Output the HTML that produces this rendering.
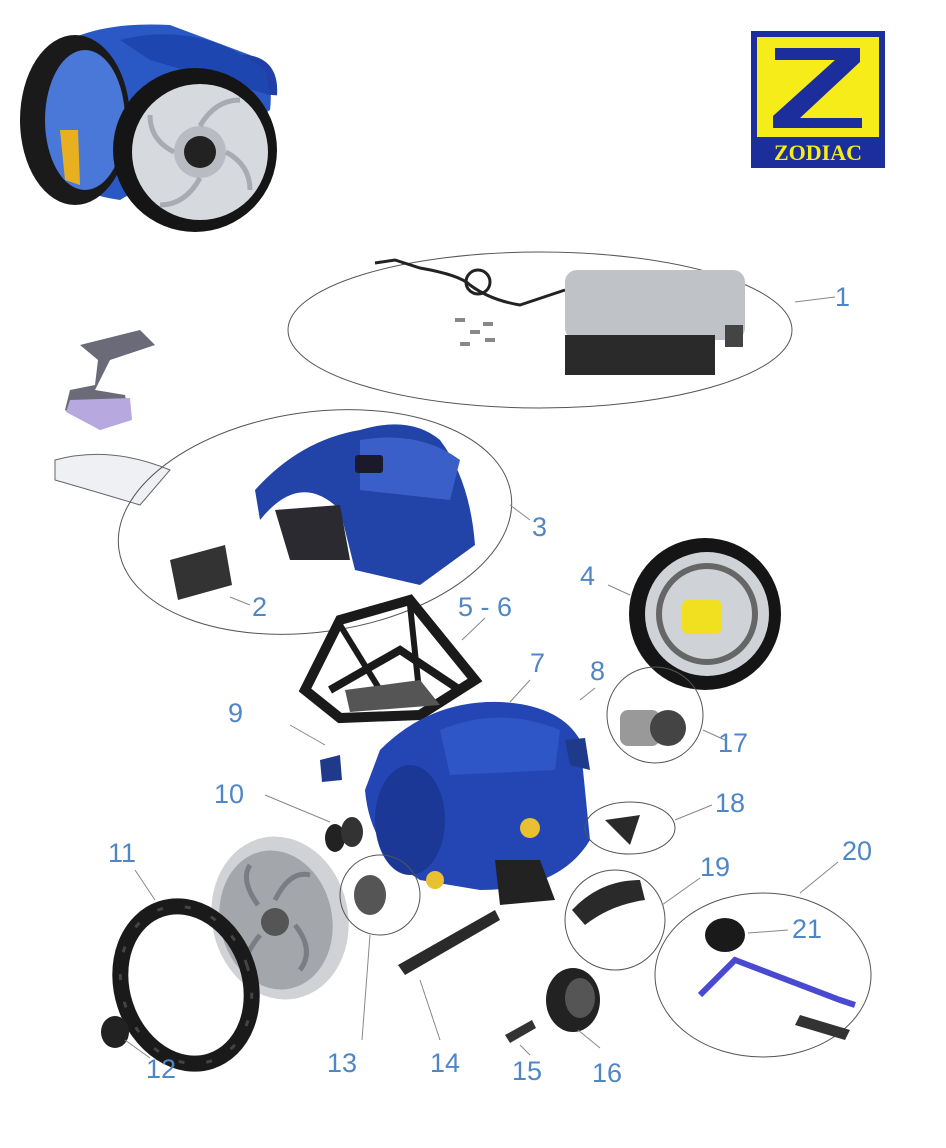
<!DOCTYPE html>
<html><head><meta charset="utf-8"><style>
html,body{margin:0;padding:0;background:#fff;}
svg{display:block}
.n{font-family:"Liberation Sans",sans-serif;font-size:27px;fill:#4f86c6;}
</style></head><body>
<svg width="946" height="1148" viewBox="0 0 946 1148" xmlns="http://www.w3.org/2000/svg">
<!-- top-left robot -->
<g>
<path d="M40 60 Q80 20 170 25 L250 55 Q275 70 270 110 L120 200 Q50 190 35 140 Z" fill="#2a58c4"/>
<path d="M230 60 Q275 55 272 95" fill="none" stroke="#2040a8" stroke-width="10"/>
<ellipse cx="75" cy="120" rx="55" ry="85" fill="#1a1a1a"/>
<ellipse cx="85" cy="120" rx="40" ry="70" fill="#4a78d8"/>
<path d="M120 40 Q200 20 265 70 L270 95 L150 60 Z" fill="#1e46b0"/>
<circle cx="195" cy="150" r="82" fill="#151515"/>
<circle cx="200" cy="152" r="68" fill="#d6d9de"/>
<circle cx="200" cy="152" r="26" fill="#b8bcc2"/>
<circle cx="200" cy="152" r="16" fill="#222"/>
<g stroke="#a8acb2" stroke-width="5" fill="none"><path d="M200 126 Q215 100 240 100"/><path d="M226 152 Q250 165 250 190"/><path d="M200 178 Q185 205 160 205"/><path d="M174 152 Q150 140 150 115"/></g>
<path d="M60 130 L78 130 L80 185 L65 180 Z" fill="#e8b020"/>
</g>
<!-- logo -->
<rect x="751" y="31" width="134" height="137" fill="#1c2e9c"/>
<rect x="757" y="37" width="122" height="100" fill="#f6ec1a"/>
<path d="M775 48 L860 48 L860 62 L800 118 L862 118 L862 128 L773 128 L773 116 L835 60 L775 60 Z" fill="#1c2e9c"/>
<text x="818" y="160" text-anchor="middle" font-family="Liberation Serif,serif" font-weight="bold" font-size="22" fill="#f6ec1a">ZODIAC</text>
<!-- ellipse 1 -->
<ellipse cx="540" cy="330" rx="252" ry="78" fill="none" stroke="#555" stroke-width="1"/>
<line x1="795" y1="302" x2="835" y2="297" stroke="#888"/>
<text class="n" x="835" y="306">1</text>
<path d="M375 263 L395 260 L420 268 Q460 275 470 285 Q490 300 520 305 L565 290" fill="none" stroke="#222" stroke-width="3"/>
<circle cx="478" cy="282" r="12" fill="none" stroke="#222" stroke-width="3"/>
<rect x="565" y="270" width="180" height="70" rx="12" fill="#bfc2c6"/>
<rect x="565" y="335" width="150" height="40" fill="#2a2a2a"/>
<rect x="725" y="325" width="18" height="22" fill="#444"/>
<g fill="#888"><rect x="455" y="318" width="10" height="4"/><rect x="470" y="330" width="10" height="4"/><rect x="483" y="322" width="10" height="4"/><rect x="460" y="342" width="10" height="4"/><rect x="485" y="338" width="10" height="4"/></g>
<!-- remote & tiles -->
<path d="M80 345 L140 330 L155 345 L110 360 L95 390 L125 395 L130 420 L100 430 L65 410 L70 390 L95 385 L98 360 Z" fill="#6a6a78"/>
<path d="M70 400 L130 398 L132 420 L100 430 L66 412 Z" fill="#b7a8e0"/>
<path d="M55 460 Q110 445 170 470 L140 505 Q90 490 55 480 Z" fill="#eef0f3" stroke="#666"/>
<!-- ellipse 3 -->
<ellipse cx="315" cy="522" rx="198" ry="110" transform="rotate(-8 315 522)" fill="none" stroke="#555"/>
<line x1="510" y1="505" x2="530" y2="520" stroke="#888"/>
<text class="n" x="532" y="536">3</text>
<path d="M255 490 Q300 440 360 430 Q410 415 440 440 Q470 480 475 545 L420 585 L355 570 L340 510 Q300 470 260 520 Z" fill="#2244a8"/>
<path d="M275 510 L340 505 L350 560 L290 560 Z" fill="#2a2a30"/>
<path d="M360 440 Q420 430 460 460 L450 500 L360 490 Z" fill="#3b5fc8"/>
<rect x="355" y="455" width="28" height="18" rx="3" fill="#1a1a2a"/>
<path d="M170 560 L225 545 L232 585 L178 600 Z" fill="#333"/>
<line x1="230" y1="597" x2="250" y2="605" stroke="#888"/>
<text class="n" x="252" y="616">2</text>
<!-- wheel 4 -->
<circle cx="705" cy="614" r="76" fill="#151515"/>
<circle cx="707" cy="614" r="62" fill="#cfd2d6"/>
<circle cx="707" cy="614" r="48" fill="none" stroke="#666" stroke-width="6"/>
<rect x="682" y="600" width="40" height="34" rx="6" fill="#f0e020"/>
<line x1="608" y1="585" x2="630" y2="595" stroke="#888"/>
<text class="n" x="580" y="585">4</text>
<!-- frame 5-6 -->
<path d="M305 690 L340 620 L410 600 L475 680 L420 715 L340 718 Z" fill="none" stroke="#1a1a1a" stroke-width="10"/>
<path d="M330 690 L400 650 L460 690" fill="none" stroke="#1a1a1a" stroke-width="8"/>
<path d="M340 625 L380 690 M410 605 L420 700" stroke="#1a1a1a" stroke-width="6"/>
<path d="M345 690 L420 680 L440 705 L350 712 Z" fill="#555"/>
<line x1="462" y1="640" x2="485" y2="618" stroke="#888"/>
<text class="n" x="458" y="616">5 - 6</text>
<!-- body 7 -->
<path d="M380 750 Q430 700 500 702 Q560 705 580 740 L590 840 Q560 890 480 890 L420 880 Q370 850 365 790 Z" fill="#2346b4"/>
<path d="M440 730 Q500 705 560 730 L555 770 L450 775 Z" fill="#2f56c6"/>
<ellipse cx="410" cy="820" rx="35" ry="55" fill="#1b3896"/>
<path d="M495 860 L540 860 L555 900 L500 905 Z" fill="#222"/>
<circle cx="530" cy="828" r="10" fill="#e8c030"/>
<circle cx="435" cy="880" r="9" fill="#e8c030"/>
<line x1="510" y1="702" x2="530" y2="680" stroke="#888"/>
<text class="n" x="530" y="672">7</text>
<!-- 8 -->
<path d="M565 740 L585 738 L590 770 L570 765 Z" fill="#1f3a8a"/>
<line x1="580" y1="700" x2="595" y2="688" stroke="#888"/>
<text class="n" x="590" y="680">8</text>
<!-- 9 -->
<path d="M320 760 L340 755 L342 780 L322 782 Z" fill="#1f3a8a"/>
<line x1="290" y1="725" x2="325" y2="745" stroke="#888"/>
<text class="n" x="228" y="722">9</text>
<!-- 10 -->
<ellipse cx="335" cy="838" rx="10" ry="14" fill="#222"/>
<ellipse cx="352" cy="832" rx="11" ry="15" fill="#333"/>
<line x1="265" y1="795" x2="330" y2="822" stroke="#888"/>
<text class="n" x="214" y="803">10</text>
<!-- big wheel -->
<ellipse cx="280" cy="918" rx="68" ry="82" transform="rotate(-12 280 918)" fill="#d0d2d5"/>
<ellipse cx="276" cy="920" rx="56" ry="70" transform="rotate(-12 276 920)" fill="#a3a6ab"/>
<g stroke="#7a7e84" stroke-width="5" fill="none"><path d="M275 900 Q290 870 310 875"/><path d="M295 925 Q315 950 300 970"/><path d="M260 935 Q240 960 245 975"/><path d="M258 905 Q240 880 250 865"/></g>
<circle cx="275" cy="922" r="14" fill="#555"/>
<!-- tire 11 -->
<ellipse cx="186" cy="985" rx="64" ry="80" transform="rotate(-18 186 985)" fill="none" stroke="#1a1a1a" stroke-width="16"/>
<ellipse cx="186" cy="985" rx="64" ry="80" transform="rotate(-18 186 985)" fill="none" stroke="#444" stroke-width="3" stroke-dasharray="6 22"/>
<line x1="135" y1="870" x2="155" y2="900" stroke="#888"/>
<text class="n" x="108" y="862">11</text>
<!-- 12 -->
<ellipse cx="115" cy="1032" rx="14" ry="16" fill="#222"/>
<line x1="125" y1="1040" x2="150" y2="1058" stroke="#888"/>
<text class="n" x="146" y="1078">12</text>
<!-- 13 -->
<circle cx="380" cy="895" r="40" fill="none" stroke="#555"/>
<ellipse cx="370" cy="895" rx="16" ry="20" fill="#555"/>
<line x1="370" y1="935" x2="362" y2="1040" stroke="#888"/>
<text class="n" x="327" y="1072">13</text>
<!-- 14 -->
<path d="M398 965 L495 910 L500 920 L405 975 Z" fill="#2a2a2a"/>
<line x1="420" y1="980" x2="440" y2="1040" stroke="#888"/>
<text class="n" x="430" y="1072">14</text>
<!-- 15 -->
<path d="M505 1035 L532 1020 L536 1028 L510 1043 Z" fill="#333"/>
<line x1="520" y1="1045" x2="530" y2="1055" stroke="#888"/>
<text class="n" x="512" y="1080">15</text>
<!-- 16 -->
<ellipse cx="573" cy="1000" rx="27" ry="32" fill="#222"/>
<ellipse cx="580" cy="998" rx="15" ry="20" fill="#555"/>
<line x1="578" y1="1030" x2="600" y2="1048" stroke="#888"/>
<text class="n" x="592" y="1082">16</text>
<!-- 17 -->
<circle cx="655" cy="715" r="48" fill="none" stroke="#555"/>
<rect x="620" y="710" width="40" height="36" rx="8" fill="#999"/>
<circle cx="668" cy="728" r="18" fill="#444"/>
<line x1="703" y1="730" x2="725" y2="740" stroke="#888"/>
<text class="n" x="718" y="752">17</text>
<!-- 18 -->
<ellipse cx="630" cy="828" rx="45" ry="26" fill="none" stroke="#555"/>
<path d="M605 820 L640 815 L630 845 Z" fill="#2a2a2a"/>
<line x1="675" y1="820" x2="712" y2="805" stroke="#888"/>
<text class="n" x="715" y="812">18</text>
<!-- 19 -->
<circle cx="615" cy="920" r="50" fill="none" stroke="#555"/>
<path d="M572 910 Q600 880 640 880 L645 900 Q610 905 585 925 Z" fill="#2a2a2a"/>
<line x1="662" y1="905" x2="700" y2="878" stroke="#888"/>
<text class="n" x="700" y="876">19</text>
<!-- 20 -->
<ellipse cx="763" cy="975" rx="108" ry="82" fill="none" stroke="#555"/>
<ellipse cx="725" cy="935" rx="20" ry="17" fill="#1a1a1a"/>
<path d="M700 995 L735 960 L840 1000 L855 1005" fill="none" stroke="#4a4ad0" stroke-width="6"/>
<path d="M800 1015 L850 1030 L845 1040 L795 1025 Z" fill="#333"/>
<line x1="800" y1="893" x2="838" y2="862" stroke="#888"/>
<text class="n" x="842" y="860">20</text>
<line x1="748" y1="933" x2="788" y2="930" stroke="#888"/>
<text class="n" x="792" y="938">21</text>
</svg>
</body></html>
